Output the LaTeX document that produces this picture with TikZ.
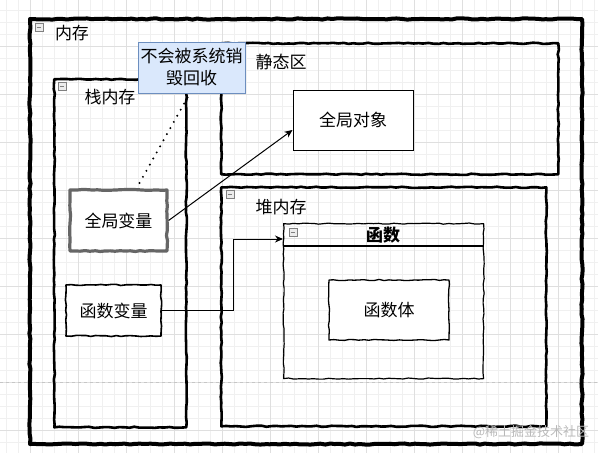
\documentclass[tikz,border=0pt]{standalone}
\usepackage{fontspec}
\setmainfont{Noto Sans CJK SC}
\usetikzlibrary{decorations.pathmorphing,arrows.meta}

\definecolor{notefill}{HTML}{DAE8FC}
\definecolor{noteline}{HTML}{6C8EBF}

\tikzstyle{rough}=[decorate,decoration={random steps,segment length=5pt,amplitude=0.6pt},line join=round]
\tikzstyle{area}=[draw,rough,line width=2.6pt,anchor=north west,inner sep=0pt]
\tikzstyle{memory}=[draw,rough,line width=4pt,anchor=north west,inner sep=0pt]
\tikzstyle{label}=[font=\fontsize{17}{20}\selectfont,inner sep=0pt]
\tikzstyle{cell}=[draw,fill=white,font=\fontsize{17}{20}\selectfont,inner sep=0pt]
\tikzstyle{minus box}=[draw=gray,fill=gray!15,minimum size=8pt,inner sep=0pt,
  path picture={\draw[line width=0.8pt] ([xshift=1.6pt]path picture bounding box.west) -- ([xshift=-1.6pt]path picture bounding box.east);}]
\tikzstyle{ref edge} = [draw,line width=1pt,-{Stealth[length=8pt,width=7pt]}]

\begin{document}
\begin{tikzpicture}[x=1pt,y=-1pt]
  \useasboundingbox (0,0) rectangle (598,453);
  \pgfmathsetseed{11}
  % grid background
  \foreach \x in {6,18,...,598} \draw[gray!12,line width=0.5pt] (\x,0) -- (\x,453);
  \foreach \y in {10,22,...,453} \draw[gray!12,line width=0.5pt] (0,\y) -- (598,\y);
  \foreach \x in {30,78,...,598} \draw[gray!25,line width=0.6pt] (\x,0) -- (\x,453);
  \foreach \y in {46,94,...,453} \draw[gray!25,line width=0.6pt] (0,\y) -- (598,\y);
  \draw[gray!45,dashed,line width=0.6pt] (0,382) -- (598,382);

  % containers
  \node[memory,minimum width=552pt,minimum height=425pt] (mem) at (28,17) {};
  \node[area,minimum width=132pt,minimum height=348pt] (stack) at (53,78) {};
  \node[area,minimum width=337pt,minimum height=131pt] (static) at (220,42) {};
  \node[area,minimum width=325pt,minimum height=239pt] (heap) at (220,186) {};
  \node[draw,rough,line width=1.2pt,anchor=north west,inner sep=0pt,minimum width=200pt,minimum height=155pt] (func) at (283,223) {};
  \draw[line width=1.2pt] ([yshift=-23pt]func.north west) -- ([yshift=-23pt]func.north east);

  \node[label] (memlabel) at (72,33) {内存};
  \node[label] (stacklabel) at (110,97) {栈内存};
  \node[label] (staticlabel) at (281,62) {静态区};
  \node[label] (heaplabel) at (281,207) {堆内存};
  \node[label,font=\bfseries\fontsize{17}{20}\selectfont] (funclabel) at (383,235) {函数};

  \foreach \name/\x/\y in {mem/39/27, stack/62/86, heap/230/194, func/293/232}
    \node[minus box] (minus\name) at (\x,\y) {};

  % cells
  \node[cell,line width=1pt,minimum width=120pt,minimum height=60pt] (gobj) at (353,120) {全局对象};
  \node[cell,rough,line width=1.3pt,minimum width=120pt,minimum height=60pt] (body) at (389,310) {函数体};
  \node[cell,rough,draw=black!60,line width=3.2pt,minimum width=97pt,minimum height=61pt] (gvar) at (118.5,220.5) {全局变量};
  \node[cell,rough,line width=1.6pt,minimum width=95pt,minimum height=51pt] (fvar) at (113.5,310.5) {函数变量};
  \node[draw=noteline,fill=notefill,line width=1pt,align=center,inner sep=0pt,
        font=\fontsize{17}{22}\selectfont,minimum width=107pt,minimum height=51pt] (note) at (191.5,67.5) {不会被系统销\\毁回收};

  % references
  \draw[line width=2.2pt,line cap=round,dash pattern=on 0pt off 7pt] ([xshift=-4pt,yshift=-4pt]note.south) -- ([xshift=18pt]gvar.north);
  \path[ref edge] (gvar.east) -- ([yshift=-10pt]gobj.west);
  \path[ref edge] (fvar.east) -- ++(72,0) |- ([yshift=-16pt]func.north west);

  \node[text=gray!55,font=\fontsize{13}{15}\selectfont,inner sep=0pt] (mark) at (531,432) {@稀土掘金技术社区};
\end{tikzpicture}
\end{document}
